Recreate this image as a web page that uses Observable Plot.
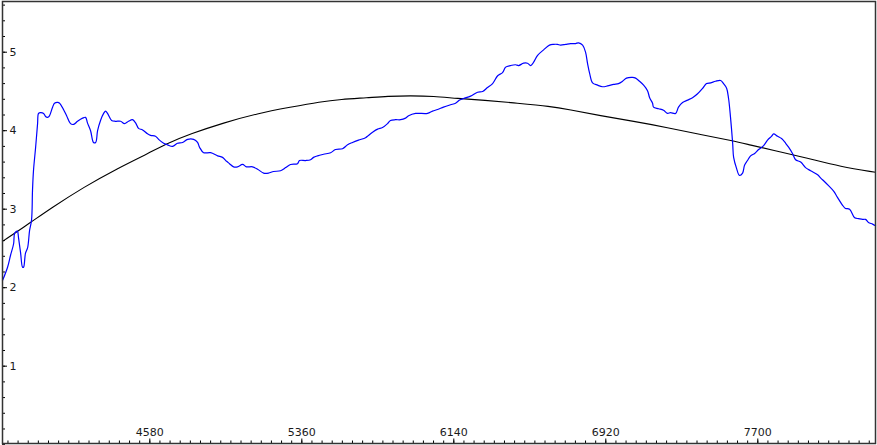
<!DOCTYPE html>
<html>
<head>
<meta charset="utf-8">
<script src="https://cdn.jsdelivr.net/npm/d3@7"></script>
<script src="https://cdn.jsdelivr.net/npm/@observablehq/plot@0.6"></script>
<style>
  html, body { margin: 0; padding: 0; background: #fff; }
  #chart svg { display: block; }
</style>
</head>
<body>
<div id="chart"></div>
<script>
// Observed spectrum (blue)
const specWave = [
  3824,3850,3865,3881,3886,3896,3901,3906,3917,3927,
  3932,3942,3953,3963,3973,3978,3983,3994,4004,4009,
  4019,4035,4045,4055,4065,4081,4091,4107,4117,4137,
  4153,4173,4189,4209,4235,4250,4260,4276,4291,4302,
  4312,4327,4343,4353,4363,4384,4404,4430,4450,4471,
  4491,4507,4522,4543,4568,4584,4609,4625,4651,4671,
  4697,4722,4748,4774,4805,4825,4835,4856,4892,4928,
  4953,4974,4989,5010,5030,5056,5076,5107,5133,5164,
  5189,5215,5251,5277,5302,5338,5348,5379,5405,5420,
  5441,5472,5508,5533,5569,5595,5620,5651,5687,5702,
  5723,5749,5774,5800,5815,5841,5867,5892,5908,5944,
  6005,6031,6057,6087,6123,6149,6170,6190,6226,6262,
  6288,6313,6339,6365,6390,6406,6431,6457,6472,6498,
  6518,6534,6549,6570,6601,6631,6652,6672,6688,6714,
  6739,6765,6780,6801,6816,6826,6837,6852,6878,6903,
  6929,6960,6985,7006,7026,7057,7073,7093,7114,7134,
  7145,7160,7165,7191,7216,7237,7252,7278,7293,7314,
  7340,7365,7391,7417,7437,7458,7483,7509,7524,7540,
  7550,7560,7571,7576,7591,7606,7622,7632,7647,7663,
  7684,7704,7730,7750,7771,7781,7801,7822,7843,7858,
  7878,7894,7920,7945,7971,8007,8022,8043,8063,8089,
  8109,8135,8150,8171,8197,8217,8238,8253,8268,8289,
  8304
];
const specFlux = [
  2.09,2.26,2.41,2.56,2.69,2.72,2.72,2.64,2.44,2.26,
  2.26,2.44,2.51,2.73,2.86,3.24,3.49,3.79,4.09,4.22,
  4.23,4.22,4.18,4.17,4.19,4.30,4.35,4.36,4.35,4.27,
  4.19,4.09,4.08,4.12,4.16,4.17,4.10,4.00,3.85,3.85,
  4.00,4.13,4.22,4.25,4.22,4.13,4.12,4.12,4.09,4.12,
  4.14,4.10,4.03,4.01,3.96,3.94,3.93,3.89,3.84,3.82,
  3.80,3.84,3.85,3.89,3.89,3.85,3.79,3.72,3.72,3.68,
  3.66,3.61,3.58,3.54,3.54,3.57,3.54,3.54,3.51,3.46,
  3.46,3.48,3.49,3.53,3.57,3.58,3.62,3.62,3.63,3.66,
  3.68,3.70,3.72,3.76,3.77,3.82,3.85,3.88,3.91,3.94,
  3.98,4.02,4.04,4.09,4.13,4.14,4.14,4.16,4.19,4.22,
  4.22,4.25,4.27,4.30,4.33,4.35,4.39,4.41,4.44,4.49,
  4.50,4.55,4.60,4.70,4.74,4.81,4.83,4.84,4.83,4.86,
  4.86,4.83,4.87,4.96,5.03,5.09,5.10,5.10,5.09,5.10,
  5.11,5.11,5.12,5.09,5.00,4.86,4.73,4.61,4.58,4.56,
  4.57,4.59,4.60,4.63,4.67,4.68,4.67,4.63,4.58,4.51,
  4.42,4.35,4.30,4.28,4.26,4.22,4.23,4.22,4.30,4.36,
  4.39,4.42,4.47,4.54,4.60,4.61,4.63,4.64,4.60,4.54,
  4.41,4.17,3.84,3.66,3.52,3.43,3.46,3.56,3.62,3.68,
  3.71,3.76,3.81,3.88,3.93,3.96,3.93,3.90,3.84,3.79,
  3.71,3.63,3.60,3.53,3.49,3.44,3.40,3.35,3.30,3.23,
  3.15,3.05,3.01,3.00,2.89,2.88,2.87,2.87,2.83,2.81,
  2.79
];

// Smooth fitted continuum (black)
const fitWave = [3824,3968,4071,4240,4414,4579,4671,4789,4958,5133,5302,5456,5559,5697,5800,5918,
                 6036,6159,6293,6467,6636,6729,6893,7062,7237,7406,7576,7658,7781,7955,8125,8304];
const fitFlux = [2.59,2.83,3.01,3.28,3.52,3.72,3.84,3.96,4.10,4.22,4.30,4.37,4.40,4.42,4.44,4.445,
                 4.44,4.41,4.39,4.35,4.31,4.27,4.19,4.12,4.04,3.95,3.87,3.82,3.75,3.65,3.54,3.47];

// Axis ticks
const xTickLabels = [4580, 5360, 6140, 6920, 7700];
const yTickLabels = [1, 2, 3, 4, 5];
const xMinorTicks = d3.range(3800, 8310, 52);
const yMinorTicks = d3.range(0, 5.65, 0.2);

const spectrum = specWave.map((w, i) => ({w, f: specFlux[i]}));
const fit = fitWave.map((w, i) => ({w, f: fitFlux[i]}));

const W = 877, H = 445;
const mL = 2, mR = 2, mT = 1, mB = 2;
const innerW = W - mL - mR, innerH = H - mT - mB;
const font = "DejaVu Sans, Verdana, sans-serif";

const chart = Plot.plot({
  width: W,
  height: H,
  marginLeft: mL,
  marginRight: mR,
  marginTop: mT,
  marginBottom: mB,
  style: {fontFamily: font, fontSize: "11px", background: "#fff", color: "#222"},
  x: {domain: [3824, 8304], axis: null},
  y: {domain: [0.015, 5.646], axis: null},
  marks: [
    Plot.tickX(xMinorTicks, {x: d => d, insetTop: innerH - 2.5, stroke: "#000"}),
    Plot.tickX(xTickLabels, {x: d => d, insetTop: innerH - 4.5, stroke: "#000"}),
    Plot.tickY(yMinorTicks, {y: d => d, insetRight: innerW - 3, stroke: "#000"}),
    Plot.tickY(yTickLabels, {y: d => d, insetRight: innerW - 5, stroke: "#000"}),
    Plot.text(xTickLabels, {x: d => d, frameAnchor: "bottom", dy: -11, text: d => String(d), fill: "#1a1a1a", lineAnchor: "middle"}),
    Plot.text(yTickLabels, {y: d => d, frameAnchor: "left", dx: 7, textAnchor: "start", text: d => String(d), fill: "#1a1a1a"}),
    Plot.line(fit, {x: "w", y: "f", stroke: "#000", strokeWidth: 1.1, curve: "basis"}),
    Plot.line(spectrum, {x: "w", y: "f", stroke: "#0000ff", strokeWidth: 1.2, curve: "catmull-rom"}),
    Plot.frame({stroke: "#333", strokeWidth: 1.5})
  ]
});
document.getElementById("chart").appendChild(chart);
</script>
</body>
</html>
